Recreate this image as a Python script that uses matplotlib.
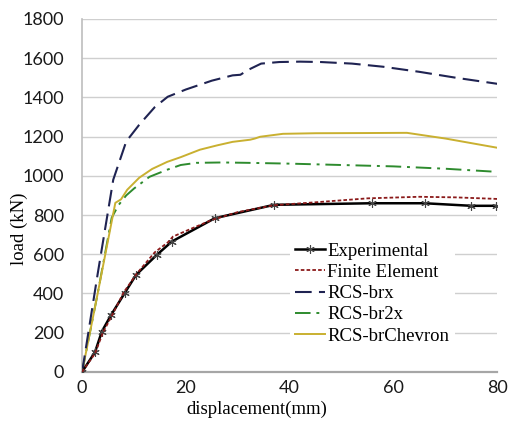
import matplotlib
matplotlib.use("Agg")
import matplotlib.pyplot as plt

# Data
exp_x = [0, 2.5, 3.8, 5.6, 8.2, 10.4, 14.4, 17.3, 25.6, 37, 55.8, 66, 75, 79.7]
exp_y = [0, 102, 206, 291, 402, 495, 597, 665, 784, 852, 860, 860, 847, 847]

fe_x = [0, 2.5, 4, 6, 8, 10.5, 14, 16.5, 17.5, 21, 25, 30, 37, 45, 55, 65, 72, 80]
fe_y = [0, 95, 200, 300, 405, 500, 610, 660, 690, 730, 775, 815, 850, 865, 885, 893, 890, 882]

brx_x = [0, 3, 6, 8.5, 11, 14, 16.5, 20, 25, 29, 30.5, 32, 34.5, 38, 42, 46, 52, 58, 65, 72, 80]
brx_y = [0, 500, 980, 1175, 1260, 1350, 1403, 1440, 1485, 1512, 1515, 1540, 1572, 1580, 1582, 1580, 1572, 1556, 1530, 1500, 1469]

br2x_x = [0, 3, 5.7, 7, 8.5, 10, 13, 16.4, 19, 22, 27, 32, 40, 50, 60, 70, 80]
br2x_y = [0, 400, 786, 850, 900, 935, 995, 1031, 1055, 1066, 1068, 1066, 1062, 1055, 1048, 1036, 1020]

chev_x = [0, 3, 6.4, 7.5, 8.7, 11, 13.5, 16.4, 19, 22.7, 26, 29, 32.4, 33.3, 34.3, 38.7, 45, 55, 62.6, 70, 80]
chev_y = [0, 400, 862, 880, 929, 990, 1035, 1071, 1095, 1133, 1155, 1173, 1184, 1190, 1199, 1214, 1217, 1218, 1219, 1190, 1143]

x_ticks = [0, 20, 40, 60, 80]
y_ticks = [0, 200, 400, 600, 800, 1000, 1200, 1400, 1600, 1800]

fig = plt.figure(figsize=(5.1, 4.29), dpi=100)
ax = fig.add_axes([0.161, 0.133, 0.814, 0.823])

ax.plot(exp_x, exp_y, color="black", lw=1.8, marker=(6, 2, 0), ms=6, mew=0.8,
        mec="#444444", label="Experimental", zorder=5)
ax.plot(fe_x, fe_y, color="#8b1a1a", lw=1.3, ls=(0, (2, 1.2)), label="Finite Element", zorder=6)
ax.plot(brx_x, brx_y, color="#1f2352", lw=1.5, ls=(0, (8, 3.5)), label="RCS-brx", zorder=4)
ax.plot(br2x_x, br2x_y, color="#2e8b2e", lw=1.4, ls=(0, (8, 3, 1.5, 3)), label="RCS-br2x", zorder=3)
ax.plot(chev_x, chev_y, color="#c9b030", lw=1.4, label="RCS-brChevron", zorder=3)

ax.set_xlim(0, 80)
ax.set_ylim(0, 1800)
ax.set_xticks(x_ticks)
ax.set_yticks(y_ticks)
ax.grid(axis="y", color="#cfcfcf", lw=1.0)
ax.set_axisbelow(True)
for s in ["top", "right"]:
    ax.spines[s].set_visible(False)
ax.spines["left"].set_color("#bdbdbd")
ax.spines["bottom"].set_color("#a6a6a6")
ax.spines["left"].set_linewidth(1.2)
ax.spines["bottom"].set_linewidth(1.6)
ax.tick_params(length=0, labelsize=13, labelcolor="#1a1a1a")
ax.tick_params(axis="y", pad=13)
ax.tick_params(axis="x", pad=6)
for lab in ax.get_xticklabels() + ax.get_yticklabels():
    lab.set_family("Lato")

ax.set_xlabel("displacement(mm)", family="Liberation Serif", fontsize=13.5)
ax.xaxis.set_label_coords(0.42, -0.08)
ax.set_ylabel("load (kN)", family="Liberation Serif", fontsize=13.5)
ax.yaxis.set_label_coords(-0.13, 0.405)

leg = ax.legend(loc="lower right", bbox_to_anchor=(0.92, 0.035), frameon=True,
                prop={"family": "Liberation Serif", "size": 13.5}, handlelength=1.6,
                handletextpad=0.1, labelspacing=0.22, borderpad=0.3)
leg.get_frame().set_edgecolor("none")
leg.get_frame().set_facecolor("white")
leg.get_frame().set_alpha(1)

fig.savefig("out.png", dpi=100)
